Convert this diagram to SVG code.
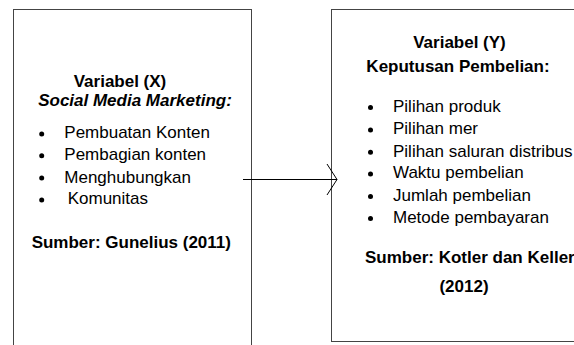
<svg xmlns="http://www.w3.org/2000/svg" width="574" height="345" viewBox="0 0 574 345">
<style>
.box{fill:#fff;stroke:#444;stroke-width:1}
text{font-family:"Liberation Sans",Arial,sans-serif;font-size:17px;fill:#000}
.b{font-weight:bold}
.bi{font-weight:bold;font-style:italic}
.m{text-anchor:middle}
.dot{fill:#000}
.conn{fill:none;stroke:#000;stroke-width:1}
</style>
<rect width="574" height="345" fill="#fff"/>
<g id="nodeX">
<rect class="box" x="13.5" y="9.5" width="238" height="345"/>
<text class="b m" x="120" y="86.7">Variabel (X)</text>
<text class="bi m" x="135" y="105.7">Social Media Marketing:</text>
<circle class="dot" cx="41.7" cy="134" r="2.5"/>
<circle class="dot" cx="41.7" cy="155.7" r="2.5"/>
<circle class="dot" cx="41.7" cy="178" r="2.5"/>
<circle class="dot" cx="41.7" cy="200" r="2.5"/>
<text x="64.3" y="138.3">Pembuatan Konten</text>
<text x="64.3" y="160">Pembagian konten</text>
<text x="64.3" y="182.7">Menghubungkan</text>
<text x="67.7" y="204.3">Komunitas</text>
<text class="b m" x="131.3" y="248.3">Sumber: Gunelius (2011)</text>
</g>
<g id="nodeY">
<rect class="box" x="331.5" y="9.5" width="260" height="332"/>
<text class="b m" x="459.5" y="48">Variabel (Y)</text>
<text class="b m" x="458" y="72">Keputusan Pembelian:</text>
<circle class="dot" cx="370.5" cy="107.5" r="2.5"/>
<circle class="dot" cx="370.5" cy="130" r="2.5"/>
<circle class="dot" cx="370.5" cy="152.3" r="2.5"/>
<circle class="dot" cx="370.5" cy="174" r="2.5"/>
<circle class="dot" cx="370.5" cy="196.4" r="2.5"/>
<circle class="dot" cx="370.5" cy="218.6" r="2.5"/>
<text x="393" y="111.7">Pilihan produk</text>
<text x="393" y="134.3">Pilihan mer</text>
<text x="393" y="156.7">Pilihan saluran distribus</text>
<text x="393" y="178.3">Waktu pembelian</text>
<text x="393" y="200.7">Jumlah pembelian</text>
<text x="393" y="223">Metode pembayaran</text>
<text class="b" x="365" y="263.3">Sumber: Kotler dan Keller</text>
<text class="b m" x="464" y="291.7">(2012)</text>
</g>
<g id="connectors">
<line class="conn" x1="243" y1="179.5" x2="337" y2="179.5"/>
<polyline class="conn" points="327,164 337,179.5 327,195"/>
</g>
</svg>
